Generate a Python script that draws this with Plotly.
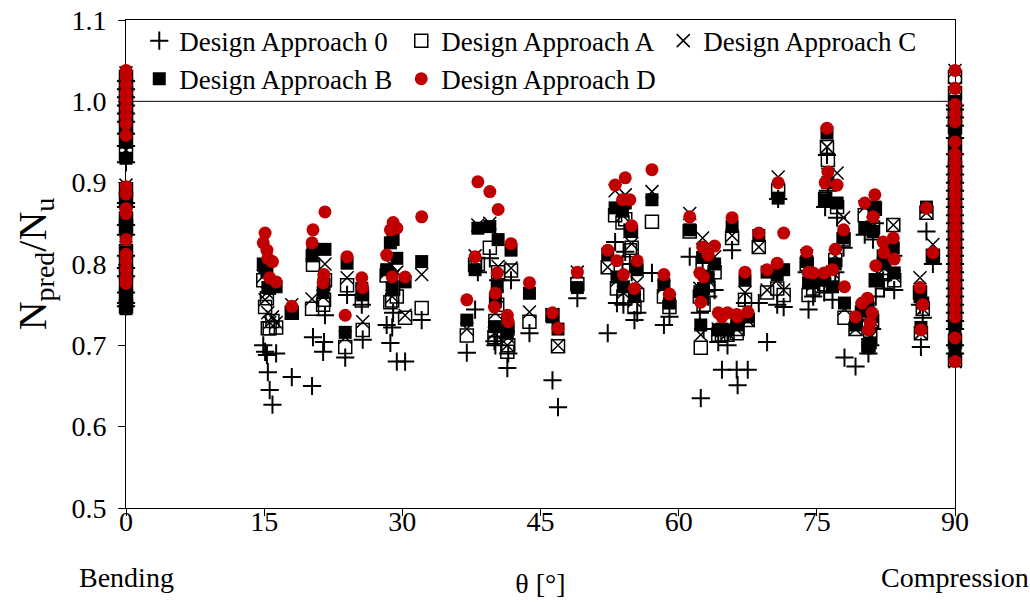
import plotly.graph_objects as go

# Specimen load angle theta [deg] (0 = bending, 90 = compression)
theta = (
    [0] * 19
    + [14.9, 15.1, 15.3, 15.4, 15.6, 15.9, 16.3, 18.0,
       20.2, 20.3, 21.4, 21.5, 21.6,
       23.8, 24.0, 25.6, 25.7,
       28.3, 28.7, 28.9, 29.0, 29.4, 30.3, 32.1,
       37.0, 37.9, 38.2, 39.5, 40.1, 40.0, 40.3, 40.4, 41.4, 41.5, 41.8, 43.8, 46.3, 46.9, 49.0,
       52.3, 53.1, 53.3, 53.9, 54.0, 54.2, 54.7, 54.9, 55.2, 55.5, 57.1, 58.4, 59.0,
       61.2, 62.3, 62.4, 62.6, 62.7, 63.2, 63.9, 64.3, 64.7, 65.3, 65.8, 66.3, 66.4, 67.2, 67.5, 68.7, 69.6,
       70.7, 70.8, 71.4, 73.9, 74.1, 74.6, 75.9, 75.8, 76.1, 76.2, 76.7, 77.0, 77.2, 77.9, 78.0, 79.2, 79.9,
       80.2, 80.5, 80.6, 80.8, 81.1, 81.0, 81.3, 81.4, 82.2, 82.3, 83.3, 83.4, 86.2, 86.3, 86.5, 86.9, 87.6]
    + [90] * 29
)

# Design Approach 0
da0 = (
    [1.025, 1.015, 1.005, 0.995, 0.985, 0.975, 0.960, 0.945, 0.925, 0.875, 0.870, 0.848, 0.836, 0.810, 0.795, 0.785, 0.765, 0.752, 0.748]
    + [0.700, 0.692, 0.688, 0.667, 0.645, 0.627, 0.690, 0.661,
       0.650, 0.710, 0.692, 0.704, 0.737,
       0.685, 0.762, 0.750, 0.707,
       0.725, 0.703, 0.722, 0.740, 0.680, 0.680, 0.731,
       0.691, 0.744, 0.790, 0.807, 0.700, 0.705, 0.711, 0.780, 0.672, 0.690, 0.780, 0.715, 0.657, 0.624, 0.758,
       0.715, 0.827, 0.752, 0.800, 0.750, 0.815, 0.800, 0.790, 0.731, 0.740, 0.789, 0.725, 0.735,
       0.809, 0.740, 0.635, 0.790, 0.720, 0.760, 0.768, 0.704, 0.670, 0.700, 0.817, 0.670, 0.651, 0.752, 0.670, 0.752, 0.704,
       0.750, 0.880, 0.747, 0.790, 0.744, 0.760, 0.870, 0.765, 0.934, 0.890, 0.756, 0.790, 0.857, 0.820, 0.685, 0.674, 0.730,
       0.836, 0.735, 0.690, 0.700, 0.830, 0.720, 0.850, 0.760, 0.780, 0.770, 0.810, 0.768, 0.750, 0.698, 0.734, 0.840, 0.800]
    + [0.995, 0.990, 0.980, 0.970, 0.955, 0.935, 0.920, 0.910, 0.900, 0.890, 0.880, 0.870, 0.860, 0.850, 0.840,
       0.830, 0.820, 0.810, 0.800, 0.790, 0.780, 0.770, 0.760, 0.750, 0.740, 0.730, 0.720, 0.700, 0.690]
)

# Design Approach A
daA = (
    [1.030, 1.020, 1.010, 1.000, 0.990, 0.980, 0.970, 0.955, 0.935, 0.892, 0.880, 0.856, 0.846, 0.816, 0.800, 0.790, 0.776, 0.760, 0.748]
    + [0.780, 0.747, 0.758, 0.721, 0.721, 0.730, 0.722, 0.740,
       0.745, 0.799, 0.750, 0.756, 0.780,
       0.698, 0.774, 0.755, 0.719,
       0.786, 0.753, 0.755, 0.770, 0.760, 0.734, 0.746,
       0.712, 0.799, 0.800, 0.820, 0.730, 0.710, 0.750, 0.790, 0.692, 0.700, 0.792, 0.729, 0.737, 0.699, 0.775,
       0.796, 0.860, 0.770, 0.851, 0.760, 0.855, 0.817, 0.820, 0.747, 0.762, 0.852, 0.760, 0.747,
       0.840, 0.760, 0.697, 0.800, 0.750, 0.774, 0.790, 0.713, 0.713, 0.713, 0.832, 0.715, 0.720, 0.756, 0.731, 0.821, 0.765,
       0.770, 0.890, 0.762, 0.800, 0.762, 0.770, 0.880, 0.775, 0.944, 0.928, 0.780, 0.805, 0.870, 0.830, 0.734, 0.720, 0.740,
       0.860, 0.745, 0.700, 0.710, 0.845, 0.730, 0.868, 0.780, 0.795, 0.790, 0.848, 0.780, 0.765, 0.715, 0.745, 0.863, 0.810]
    + [1.030, 1.010, 0.990, 0.980, 0.968, 0.945, 0.928, 0.918, 0.908, 0.898, 0.888, 0.878, 0.868, 0.858, 0.848,
       0.838, 0.828, 0.818, 0.808, 0.798, 0.788, 0.778, 0.768, 0.758, 0.748, 0.738, 0.728, 0.705, 0.682]
)

# Design Approach C
daC = (
    [1.035, 1.025, 1.015, 1.005, 0.995, 0.985, 0.975, 0.960, 0.940, 0.897, 0.884, 0.860, 0.850, 0.820, 0.805, 0.795, 0.780, 0.765, 0.752]
    + [0.785, 0.756, 0.765, 0.740, 0.728, 0.735, 0.728, 0.750,
       0.757, 0.810, 0.760, 0.765, 0.800,
       0.710, 0.783, 0.765, 0.729,
       0.790, 0.800, 0.760, 0.785, 0.790, 0.737, 0.787,
       0.720, 0.810, 0.848, 0.850, 0.740, 0.715, 0.760, 0.797, 0.700, 0.710, 0.795, 0.741, 0.738, 0.700, 0.790,
       0.796, 0.890, 0.780, 0.860, 0.765, 0.885, 0.840, 0.825, 0.755, 0.777, 0.889, 0.772, 0.755,
       0.862, 0.770, 0.713, 0.832, 0.760, 0.780, 0.809, 0.720, 0.718, 0.715, 0.835, 0.720, 0.725, 0.765, 0.731, 0.821, 0.768,
       0.780, 0.907, 0.768, 0.810, 0.780, 0.775, 0.880, 0.780, 0.944, 0.910, 0.790, 0.810, 0.912, 0.857, 0.745, 0.720, 0.740,
       0.870, 0.745, 0.700, 0.710, 0.850, 0.730, 0.868, 0.780, 0.800, 0.795, 0.848, 0.785, 0.783, 0.715, 0.745, 0.863, 0.824]
    + [1.038, 1.016, 0.994, 0.983, 0.972, 0.948, 0.932, 0.922, 0.912, 0.902, 0.892, 0.882, 0.872, 0.862, 0.852,
       0.842, 0.832, 0.822, 0.812, 0.802, 0.792, 0.782, 0.772, 0.762, 0.752, 0.742, 0.732, 0.707, 0.680]
)

# Design Approach B
daB = (
    [1.030, 1.020, 1.010, 1.000, 0.990, 0.980, 0.965, 0.950, 0.930, 0.880, 0.875, 0.852, 0.840, 0.815, 0.800, 0.790, 0.770, 0.756, 0.745]
    + [0.800, 0.796, 0.790, 0.771, 0.770, 0.775, 0.772, 0.740,
       0.810, 0.818, 0.765, 0.775, 0.818,
       0.716, 0.801, 0.770, 0.762,
       0.793, 0.826, 0.771, 0.830, 0.807, 0.778, 0.803,
       0.731, 0.793, 0.844, 0.846, 0.756, 0.723, 0.772, 0.830, 0.715, 0.720, 0.817, 0.764, 0.735, 0.720, 0.771,
       0.812, 0.869, 0.784, 0.865, 0.772, 0.875, 0.842, 0.840, 0.760, 0.793, 0.879, 0.775, 0.752,
       0.842, 0.766, 0.725, 0.808, 0.770, 0.784, 0.800, 0.719, 0.720, 0.719, 0.846, 0.725, 0.730, 0.780, 0.735, 0.835, 0.790,
       0.787, 0.881, 0.793, 0.803, 0.777, 0.777, 0.879, 0.780, 0.961, 0.900, 0.772, 0.800, 0.875, 0.832, 0.752, 0.725, 0.745,
       0.844, 0.750, 0.697, 0.703, 0.840, 0.735, 0.870, 0.780, 0.810, 0.800, 0.820, 0.789, 0.760, 0.722, 0.752, 0.870, 0.809]
    + [1.000, 0.998, 0.985, 0.975, 0.962, 0.940, 0.925, 0.915, 0.905, 0.895, 0.885, 0.875, 0.865, 0.855, 0.845,
       0.835, 0.825, 0.815, 0.805, 0.795, 0.785, 0.775, 0.765, 0.755, 0.745, 0.730, 0.718, 0.703, 0.692]
)

# Design Approach D
daD = (
    [1.038, 1.030, 1.020, 1.010, 1.002, 0.992, 0.982, 0.972, 0.958, 0.895, 0.886, 0.868, 0.862, 0.830, 0.812, 0.803, 0.793, 0.783, 0.776]
    + [0.826, 0.838, 0.817, 0.807, 0.783, 0.803, 0.778, 0.748,
       0.826, 0.842, 0.777, 0.787, 0.864,
       0.737, 0.809, 0.783, 0.771,
       0.811, 0.842, 0.784, 0.851, 0.844, 0.784, 0.858,
       0.756, 0.809, 0.901, 0.889, 0.764, 0.747, 0.789, 0.867, 0.737, 0.729, 0.825, 0.777, 0.740, 0.721, 0.790,
       0.817, 0.897, 0.804, 0.879, 0.787, 0.906, 0.879, 0.847, 0.770, 0.804, 0.916, 0.787, 0.763,
       0.858, 0.789, 0.753, 0.821, 0.784, 0.811, 0.822, 0.740, 0.735, 0.740, 0.857, 0.738, 0.735, 0.790, 0.741, 0.838, 0.793,
       0.801, 0.900, 0.838, 0.815, 0.790, 0.789, 0.900, 0.789, 0.967, 0.913, 0.793, 0.818, 0.897, 0.842, 0.772, 0.735, 0.752,
       0.875, 0.758, 0.719, 0.728, 0.858, 0.740, 0.885, 0.798, 0.827, 0.814, 0.832, 0.806, 0.771, 0.719, 0.750, 0.869, 0.814]
    + [1.038, 1.016, 0.996, 0.985, 0.975, 0.950, 0.935, 0.925, 0.915, 0.905, 0.895, 0.885, 0.875, 0.865, 0.855,
       0.845, 0.835, 0.825, 0.815, 0.805, 0.795, 0.785, 0.775, 0.765, 0.755, 0.745, 0.735, 0.709, 0.680]
)

FONT = "Liberation Serif"
FS = 28
RED = "#C00000"

series = [
    ("Design Approach 0", da0, "cross-thin-open", "black", 2, 13),
    ("Design Approach A", daA, "square-open", "black", 1.5, 13),
    ("Design Approach C", daC, "x-thin-open", "black", 1.5, 13),
    ("Design Approach B", daB, "square", "black", 0, 13),
    ("Design Approach D", daD, "circle", RED, 0, 13),
]

fig = go.Figure()
for name, vals, sym, col, lw, sz in series:
    fig.add_trace(go.Scatter(
        x=theta, y=vals, mode="markers", name=name, cliponaxis=False,
        marker=dict(symbol=sym, size=sz, color=col, line=dict(color=col, width=lw)),
    ))

fig.update_layout(
    width=1030, height=602,
    margin=dict(l=126, r=75, t=20, b=94, pad=0, autoexpand=False),
    paper_bgcolor="white", plot_bgcolor="white",
    font=dict(family=FONT, size=FS, color="black"),
    showlegend=True,
    legend=dict(
        orientation="h", x=0.016, y=1.007, xanchor="left", yanchor="top",
        entrywidth=217, bgcolor="rgba(0,0,0,0)", borderwidth=0,
        font=dict(family=FONT, size=27, color="black"),
        tracegroupgap=0, itemwidth=30,
    ),
    xaxis=dict(
        range=[0, 90], tickmode="array", tickvals=[0, 15, 30, 45, 60, 75, 90],
        ticks="outside", ticklen=7, tickwidth=1, tickcolor="black",
        showline=True, linecolor="black", linewidth=1, mirror=True,
        showgrid=False, zeroline=False, layer="below traces", automargin=False,
        tickfont=dict(family=FONT, size=FS), ticklabelstandoff=-19,
        title=dict(text="θ [°]", font=dict(family=FONT, size=FS), standoff=37),
    ),
    yaxis=dict(
        range=[0.5, 1.1], tickmode="linear", tick0=0.5, dtick=0.1, tickformat=".1f",
        ticks="outside", ticklen=7, tickwidth=1, tickcolor="black",
        showline=True, linecolor="black", linewidth=1, mirror=True,
        showgrid=False, zeroline=False, layer="below traces", automargin=False,
        tickfont=dict(family=FONT, size=FS), ticklabelstandoff=6,
        title=dict(text="N<sub>pred</sub>/N<sub>u</sub>", font=dict(family=FONT, size=40), standoff=12),
    ),
    shapes=[dict(type="line", xref="x", yref="y", x0=0, x1=90, y0=1.0, y1=1.0,
                 line=dict(color="black", width=1), layer="below")],
    annotations=[
        dict(text="Bending", x=0, y=-0.143, xref="x", yref="paper", showarrow=False,
             xanchor="center", yanchor="middle", font=dict(family=FONT, size=FS)),
        dict(text="Compression", x=90, y=-0.143, xref="x", yref="paper", showarrow=False,
             xanchor="center", yanchor="middle", font=dict(family=FONT, size=FS)),
    ],
)

fig.write_html("out.html")
